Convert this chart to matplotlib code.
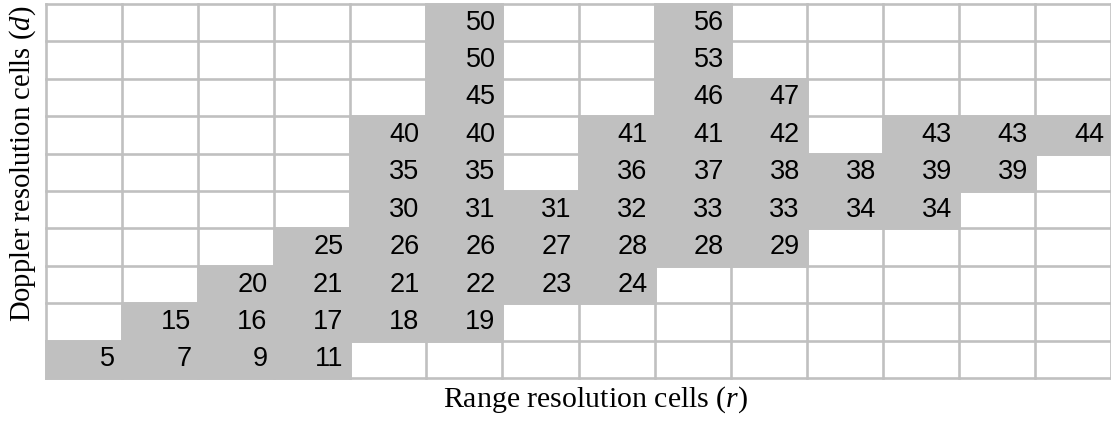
import matplotlib
matplotlib.use("Agg")
import matplotlib.pyplot as plt
from matplotlib.patches import Rectangle

n_cols = 14
n_rows = 10

# occupied cells: row 0 is the top row, col 0 the left column
cell_row = [0, 0,
            1, 1,
            2, 2, 2,
            3, 3, 3, 3, 3, 3, 3, 3,
            4, 4, 4, 4, 4, 4, 4, 4,
            5, 5, 5, 5, 5, 5, 5, 5,
            6, 6, 6, 6, 6, 6, 6,
            7, 7, 7, 7, 7, 7,
            8, 8, 8, 8, 8,
            9, 9, 9, 9]
cell_col = [5, 8,
            5, 8,
            5, 8, 9,
            4, 5, 7, 8, 9, 11, 12, 13,
            4, 5, 7, 8, 9, 10, 11, 12,
            4, 5, 6, 7, 8, 9, 10, 11,
            3, 4, 5, 6, 7, 8, 9,
            2, 3, 4, 5, 6, 7,
            1, 2, 3, 4, 5,
            0, 1, 2, 3]
cell_value = [50, 56,
              50, 53,
              45, 46, 47,
              40, 40, 41, 41, 42, 43, 43, 44,
              35, 35, 36, 37, 38, 38, 39, 39,
              30, 31, 31, 32, 33, 33, 34, 34,
              25, 26, 26, 27, 28, 28, 29,
              20, 21, 21, 22, 23, 24,
              15, 16, 17, 18, 19,
              5, 7, 9, 11]

xlabel = "Range resolution cells ($r$)"
ylabel = "Doppler resolution cells ($d$)"

grey = "#c0c0c0"

plt.rcParams["mathtext.fontset"] = "custom"
plt.rcParams["mathtext.it"] = "Liberation Serif:italic"
plt.rcParams["mathtext.rm"] = "Liberation Serif"

W, H = 1111, 421
fig = plt.figure(figsize=(W / 100, H / 100), dpi=100)
ax = fig.add_axes([46 / W, (H - 378) / H, 1065 / W, 374 / H])
ax.set_xlim(0, n_cols)
ax.set_ylim(n_rows, 0)
ax.axis("off")

# grid
for i in range(n_cols + 1):
    ax.plot([i, i], [0, n_rows], color=grey, lw=1.9, solid_capstyle="projecting",
            clip_on=False)
for j in range(n_rows + 1):
    ax.plot([0, n_cols], [j, j], color=grey, lw=1.9, solid_capstyle="projecting",
            clip_on=False)

for r, c, v in zip(cell_row, cell_col, cell_value):
    ax.add_patch(Rectangle((c, r), 1, 1, facecolor=grey, edgecolor=grey, lw=1.9,
                           clip_on=False, zorder=2))
    ax.text(c + 0.91, r + 0.5, str(v), ha="right", va="center",
            fontsize=19.5, family="Liberation Sans", color="black", zorder=3)

fig.text(596 / W, 1 - 400 / H, xlabel, ha="center", va="center",
         fontsize=21.5, family="Liberation Serif")
fig.text(23 / W, 1 - 164 / H, ylabel, ha="center", va="center", rotation=90,
         fontsize=20.6, family="Liberation Serif")

fig.savefig("out.png", dpi=100)
